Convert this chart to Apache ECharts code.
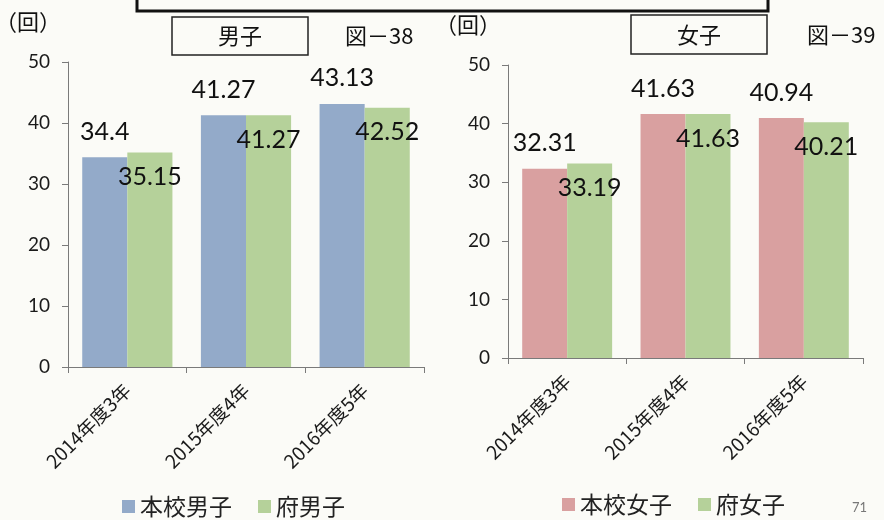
<!DOCTYPE html>
<html>
<head>
<meta charset="utf-8">
<script src="https://cdn.jsdelivr.net/npm/echarts@6/dist/echarts.min.js"></script>
<style>
  html, body { margin: 0; padding: 0; background: #fbfbf7; }
  #chart { width: 884px; height: 520px; }
</style>
</head>
<body>
<div id="chart"></div>
<script>
// データ
var categories = ['2014年度3年', '2015年度4年', '2016年度5年'];
var boysSchool = [34.4, 41.27, 43.13];   // 本校男子
var boysPref = [35.15, 41.27, 42.52];    // 府男子
var girlsSchool = [32.31, 41.63, 40.94]; // 本校女子
var girlsPref = [33.19, 41.63, 40.21];   // 府女子
var yMin = 0, yMax = 50, yStep = 10;

var jp = "'Noto Sans CJK JP', sans-serif";
var num = "Lato, 'Noto Sans CJK JP', sans-serif";

var chart = echarts.init(document.getElementById('chart'));

function xAxisFor(gi) {
  return {
    type: 'category', gridIndex: gi, data: categories,
    axisLine: { lineStyle: { color: '#7a7a7a', width: 1 } },
    axisTick: { show: true, length: 6, lineStyle: { color: '#7a7a7a' } },
    axisLabel: { rotate: 45, margin: 20, fontSize: 19, color: '#1a1a1a', fontFamily: jp }
  };
}
function yAxisFor(gi) {
  return {
    type: 'value', gridIndex: gi, min: yMin, max: yMax, interval: yStep,
    splitLine: { show: false },
    axisLine: { show: true, lineStyle: { color: '#7a7a7a', width: 1 } },
    axisTick: { show: true, length: 6, lineStyle: { color: '#7a7a7a' } },
    axisLabel: { margin: 18, fontSize: 19, color: '#1a1a1a', fontFamily: num }
  };
}
var topLabel = { show: true, position: 'top', distance: 13, fontSize: 25, color: '#111', fontFamily: num };
var inLabel = { show: true, position: 'insideTop', distance: 12, fontSize: 25, color: '#111', fontFamily: num };

function bar(name, data, color, gi, label) {
  return {
    name: name, type: 'bar', xAxisIndex: gi, yAxisIndex: gi, data: data,
    barGap: 0, barCategoryGap: '24%',
    itemStyle: { color: color },
    label: label
  };
}

var option = {
  backgroundColor: '#fbfbf7',
  animation: false,
  grid: [
    { left: 68, top: 62, width: 356, height: 305 },
    { left: 508, top: 65, width: 355, height: 293 }
  ],
  xAxis: [xAxisFor(0), xAxisFor(1)],
  yAxis: [yAxisFor(0), yAxisFor(1)],
  legend: [
    {
      data: ['本校男子', '府男子'], left: 117, top: 490,
      icon: 'rect', itemWidth: 13, itemHeight: 13, itemGap: 26,
      textStyle: { fontSize: 23, color: '#222', fontFamily: jp }
    },
    {
      data: ['本校女子', '府女子'], left: 557, top: 488,
      icon: 'rect', itemWidth: 13, itemHeight: 13, itemGap: 26,
      textStyle: { fontSize: 23, color: '#222', fontFamily: jp }
    }
  ],
  series: [
    bar('本校男子', boysSchool, '#93aac9', 0, topLabel),
    bar('府男子', boysPref, '#b5d19a', 0, inLabel),
    bar('本校女子', girlsSchool, '#d9a0a0', 1, topLabel),
    bar('府女子', girlsPref, '#b5d19a', 1, inLabel)
  ],
  graphic: [
    // 上部タイトル枠（切れている）
    { type: 'rect', shape: { x: 137, y: -30, width: 631, height: 41 },
      style: { fill: 'none', stroke: '#111', lineWidth: 3 } },
    // 男子
    { type: 'rect', shape: { x: 172, y: 17, width: 136, height: 38 },
      style: { fill: 'none', stroke: '#222', lineWidth: 1.5 } },
    { type: 'text', x: 240, y: 36, style: { text: '男子', fontSize: 22, fill: '#111', fontFamily: jp, align: 'center', verticalAlign: 'middle' } },
    { type: 'text', x: 345, y: 36, style: { text: '図－38', fontSize: 22, fill: '#111', fontFamily: jp, align: 'left', verticalAlign: 'middle' } },
    { type: 'text', x: -5, y: 22, style: { text: '（回）', fontSize: 22, fill: '#111', fontFamily: jp, align: 'left', verticalAlign: 'middle' } },
    // 女子
    { type: 'rect', shape: { x: 631, y: 15, width: 136, height: 39 },
      style: { fill: 'none', stroke: '#222', lineWidth: 1.5 } },
    { type: 'text', x: 699, y: 35, style: { text: '女子', fontSize: 22, fill: '#111', fontFamily: jp, align: 'center', verticalAlign: 'middle' } },
    { type: 'text', x: 807, y: 35, style: { text: '図－39', fontSize: 22, fill: '#111', fontFamily: jp, align: 'left', verticalAlign: 'middle' } },
    { type: 'text', x: 435, y: 25, style: { text: '（回）', fontSize: 22, fill: '#111', fontFamily: jp, align: 'left', verticalAlign: 'middle' } },
    // ページ番号
    { type: 'text', x: 852, y: 508, style: { text: '71', fontSize: 13, fill: '#777', fontFamily: num, align: 'left', verticalAlign: 'middle' } }
  ]
};

chart.setOption(option);
</script>
</body>
</html>
